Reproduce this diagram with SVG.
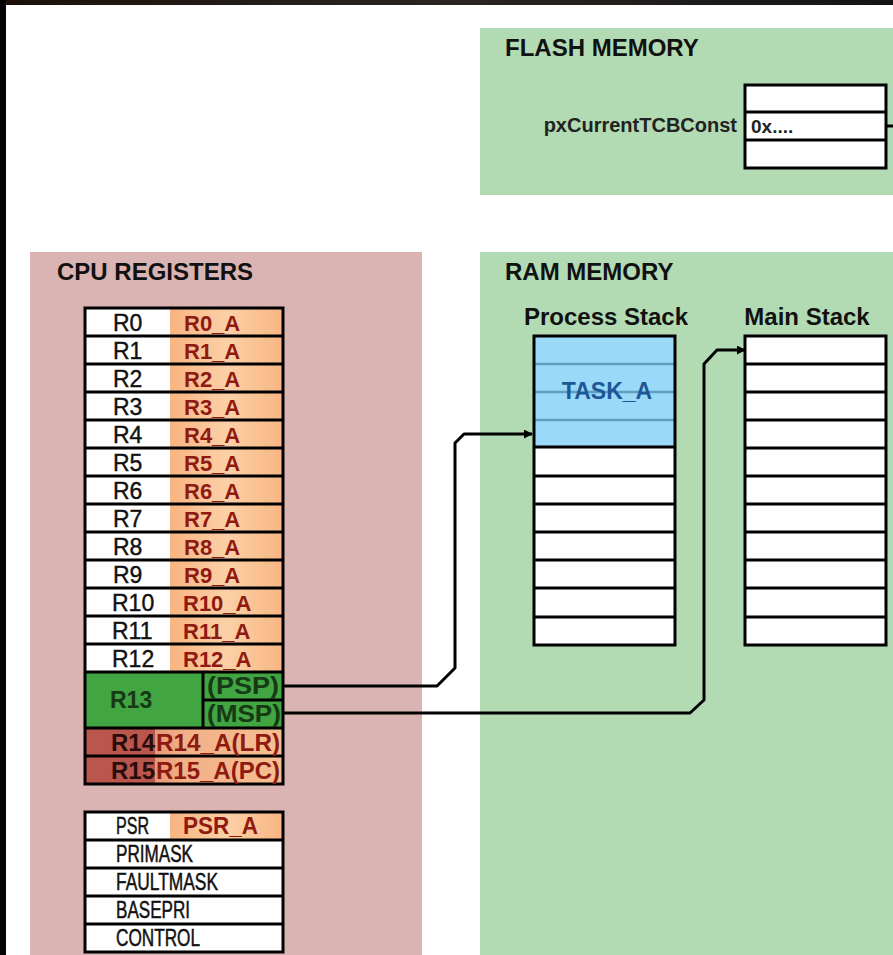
<svg xmlns="http://www.w3.org/2000/svg" width="893" height="955" viewBox="0 0 893 955">
  <defs>
    <linearGradient id="orange" x1="0" y1="0" x2="1" y2="0">
      <stop offset="0" stop-color="#f8b481"/>
      <stop offset="0.5" stop-color="#fcd0a6"/>
      <stop offset="1" stop-color="#f8b683"/>
    </linearGradient>
    <linearGradient id="rust" x1="0" y1="0" x2="1" y2="0">
      <stop offset="0" stop-color="#c8604f"/>
      <stop offset="0.5" stop-color="#f2b088"/>
      <stop offset="1" stop-color="#f6bf92"/>
    </linearGradient>
    <linearGradient id="topbar" x1="0" y1="0" x2="1" y2="0">
      <stop offset="0" stop-color="#1c1009"/>
      <stop offset="0.5" stop-color="#2a2522"/>
      <stop offset="1" stop-color="#141414"/>
    </linearGradient>
    <marker id="arrow" viewBox="0 0 10 10" refX="9" refY="5" markerWidth="9" markerHeight="9" markerUnits="userSpaceOnUse" orient="auto">
      <path d="M0,0 L10,5 L0,10 z" fill="#000"/>
    </marker>
  </defs>
  <style>
    .panel-red { fill: #d9b4b3; }
    .panel-green { fill: #b3dbb3; }
    .cell { fill: #ffffff; stroke: #000; stroke-width: 3; }
    .grid { stroke: #000; stroke-width: 3; fill: none; }
    .head { font-family: "Liberation Sans", Arial, sans-serif; font-weight: bold; font-size: 24px; fill: #111; }
    .reg { font-family: "Liberation Sans", Arial, sans-serif; font-size: 23px; fill: #111; stroke: #111; stroke-width: 0.4; }
    .val { font-family: "Liberation Sans", Arial, sans-serif; font-weight: bold; font-size: 22px; fill: #8f1a12; }
    .sp { font-family: "Liberation Sans", Arial, sans-serif; font-weight: bold; font-size: 23px; fill: #163a16; }
    .ctl { font-family: "Liberation Sans", Arial, sans-serif; font-size: 24px; fill: #111; stroke: #111; stroke-width: 0.5; }
    .lbl { font-family: "Liberation Sans", Arial, sans-serif; font-weight: bold; font-size: 20px; fill: #222; }
    .wire { fill: none; stroke: #000; stroke-width: 3; stroke-linejoin: round; }
  </style>

  <!-- background and dark frame -->
  <rect x="0" y="0" width="893" height="955" fill="#ffffff"/>
  <rect x="0" y="0" width="893" height="5" fill="url(#topbar)"/>
  <rect x="0" y="0" width="6" height="955" fill="#050302"/>

  <!-- panels -->
  <g id="flash-memory">
    <rect class="panel-green" x="480" y="28" width="413" height="167"/>
    <text class="head" x="505" y="56">FLASH MEMORY</text>
    <text class="lbl" x="737" y="132" text-anchor="end">pxCurrentTCBConst</text>
    <rect class="cell" x="745" y="85" width="141" height="83"/>
    <line class="grid" x1="745" y1="112" x2="886" y2="112"/>
    <line class="grid" x1="745" y1="140" x2="886" y2="140"/>
    <text class="lbl" x="751" y="133" style="font-size:19px">0x....</text>
  </g>

  <g id="cpu-registers">
    <rect class="panel-red" x="30" y="252" width="392" height="703"/>
    <text class="head" x="57" y="280">CPU REGISTERS</text>
  </g>

  <g id="ram-memory">
    <rect class="panel-green" x="480" y="252" width="413" height="703"/>
    <text class="head" x="505" y="280">RAM MEMORY</text>
  </g>

  <!-- general purpose registers R0..R15 -->
  <g id="register-file">
    <rect x="85" y="308" width="198" height="364" fill="#fff"/>
    <rect x="170" y="308" width="113" height="364" fill="url(#orange)"/>
    <!-- R13 banked stack pointer -->
    <rect x="85" y="672" width="198" height="56" fill="#41a541"/>
    <!-- R14 / R15 -->
    <rect x="85" y="728" width="198" height="56" fill="url(#rust)"/>
    <rect x="85" y="728" width="70" height="56" fill="#b9564d"/>
    <g class="grid">
      <rect x="85" y="308" width="198" height="476"/>
      <path d="M85,336H283M85,364H283M85,392H283M85,420H283M85,448H283M85,476H283M85,504H283M85,532H283M85,560H283M85,588H283M85,616H283M85,644H283M85,672H283M203,700H283M85,728H283M85,756H283M203,672V728"/>
    </g>
    <g class="reg">
      <text x="113" y="331">R0</text>
      <text x="113" y="359">R1</text>
      <text x="113" y="387">R2</text>
      <text x="113" y="415">R3</text>
      <text x="113" y="443">R4</text>
      <text x="113" y="471">R5</text>
      <text x="113" y="499">R6</text>
      <text x="113" y="527">R7</text>
      <text x="113" y="555">R8</text>
      <text x="113" y="583">R9</text>
      <text x="112" y="611">R10</text>
      <text x="112" y="639">R11</text>
      <text x="112" y="667">R12</text>
    </g>
    <g class="val">
      <text x="184" y="331">R0_A</text>
      <text x="184" y="359">R1_A</text>
      <text x="184" y="387">R2_A</text>
      <text x="184" y="415">R3_A</text>
      <text x="184" y="443">R4_A</text>
      <text x="184" y="471">R5_A</text>
      <text x="184" y="499">R6_A</text>
      <text x="184" y="527">R7_A</text>
      <text x="184" y="555">R8_A</text>
      <text x="184" y="583">R9_A</text>
      <text x="183" y="611">R10_A</text>
      <text x="183" y="639">R11_A</text>
      <text x="183" y="667">R12_A</text>
    </g>
    <g id="r13">
      <text class="sp" x="110" y="708">R13</text>
      <text class="sp" x="207" y="694" textLength="72" lengthAdjust="spacingAndGlyphs">(PSP)</text>
      <text class="sp" x="207" y="722" textLength="74" lengthAdjust="spacingAndGlyphs">(MSP)</text>
    </g>
    <g id="r14">
      <text class="sp" x="111" y="751" style="fill:#2a0d0a" textLength="44" lengthAdjust="spacingAndGlyphs">R14</text>
      <text class="val" x="156" y="751" textLength="124" lengthAdjust="spacingAndGlyphs" style="font-size:23px">R14_A(LR)</text>
    </g>
    <g id="r15">
      <text class="sp" x="111" y="779" style="fill:#2a0d0a" textLength="44" lengthAdjust="spacingAndGlyphs">R15</text>
      <text class="val" x="156" y="779" textLength="124" lengthAdjust="spacingAndGlyphs" style="font-size:23px">R15_A(PC)</text>
    </g>
  </g>

  <!-- special registers -->
  <g id="special-registers">
    <rect x="85" y="812" width="198" height="140" fill="#fff"/>
    <rect x="170" y="812" width="113" height="28" fill="url(#orange)"/>
    <g class="grid">
      <rect x="85" y="812" width="198" height="140"/>
      <path d="M85,840H283M85,868H283M85,896H283M85,924H283"/>
    </g>
    <text class="ctl" x="116" y="834" textLength="33" lengthAdjust="spacingAndGlyphs">PSR</text>
    <text class="val" x="183" y="834" textLength="75" lengthAdjust="spacingAndGlyphs" style="font-size:23px">PSR_A</text>
    <text class="ctl" x="116" y="862" textLength="77" lengthAdjust="spacingAndGlyphs">PRIMASK</text>
    <text class="ctl" x="116" y="890" textLength="102" lengthAdjust="spacingAndGlyphs">FAULTMASK</text>
    <text class="ctl" x="116" y="918" textLength="74" lengthAdjust="spacingAndGlyphs">BASEPRI</text>
    <text class="ctl" x="116" y="946" textLength="84" lengthAdjust="spacingAndGlyphs">CONTROL</text>
  </g>

  <!-- process stack -->
  <g id="process-stack">
    <text class="head" x="606" y="325" text-anchor="middle">Process Stack</text>
    <rect x="534" y="336" width="141" height="309" fill="#fff"/>
    <rect x="534" y="336" width="141" height="111" fill="#9bd9f8"/>
    <path d="M534,364H675M534,392H675M534,420H675" stroke="#5f9fc2" stroke-width="2.5" fill="none"/>
    <text x="607" y="399" text-anchor="middle" font-family="Liberation Sans, Arial, sans-serif" font-weight="bold" font-size="23" fill="#1e5796">TASK_A</text>
    <g class="grid">
      <rect x="534" y="336" width="141" height="309"/>
      <path d="M534,447H675M534,476H675M534,504H675M534,532H675M534,560H675M534,588H675M534,617H675"/>
    </g>
  </g>

  <!-- main stack -->
  <g id="main-stack">
    <text class="head" x="807" y="325" text-anchor="middle">Main Stack</text>
    <rect x="745" y="336" width="141" height="309" fill="#fff"/>
    <g class="grid">
      <rect x="745" y="336" width="141" height="309"/>
      <path d="M745,364H886M745,392H886M745,420H886M745,448H886M745,476H886M745,504H886M745,532H886M745,560H886M745,588H886M745,617H886"/>
    </g>
  </g>

  <!-- pointer connectors -->
  <g id="connectors">
    <path class="wire" d="M283,686H437L455,668V443L464,434H532" marker-end="url(#arrow)"/>
    <path class="wire" d="M283,713H690L704,700V364L717,350H745" marker-end="url(#arrow)"/>
    <path class="wire" d="M886,126H893"/>
  </g>
</svg>
